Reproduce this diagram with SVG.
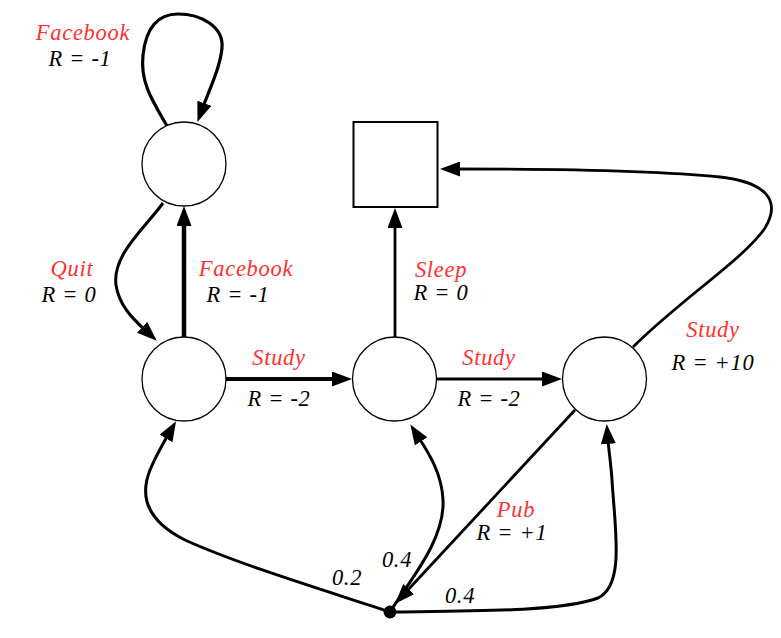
<svg xmlns="http://www.w3.org/2000/svg" width="781" height="638" viewBox="0 0 781 638">
<style>
.node{fill:#fff;stroke:#000;stroke-width:1.3}
.term{fill:#fff;stroke:#000;stroke-width:2}
.e{fill:none;stroke:#000;stroke-linecap:butt}
.lbl{font-family:"Liberation Serif","Times New Roman",serif;font-style:italic;font-size:22.5px;text-anchor:middle;letter-spacing:0.7px}
.act{fill:#ff3030}
.rew{fill:#000}
</style>
<defs>
<marker id="ah" viewBox="0 0 20 15" refX="4" refY="7.5" markerWidth="20" markerHeight="15" markerUnits="userSpaceOnUse" orient="auto">
<path d="M0,0 L20,7.5 L0,15 z" fill="#000"/>
</marker>
</defs>
<g id="connectors">
<path class="e" stroke-width="3.2" d="M167,126 C152,100 140,82 143,55 C146,28 158,14 178,14 C200,14 224,26 222,48 C220,68 210,88 203,107" marker-end="url(#ah)"/>
<path class="e" stroke-width="3" d="M163,203 C145,228 112,255 116,285 C119,305 132,318 145,330" marker-end="url(#ah)"/>
<path class="e" stroke-width="4.5" d="M184,337 L184,222" marker-end="url(#ah)"/>
<path class="e" stroke-width="4" d="M226,379 L336,379" marker-end="url(#ah)"/>
<path class="e" stroke-width="3.2" d="M436,379 L546,379" marker-end="url(#ah)"/>
<path class="e" stroke-width="2.8" d="M395,337 L395,224" marker-end="url(#ah)"/>
<path class="e" stroke-width="2.8" d="M633,347 C680,300 745,258 765,228 C782,200 765,182 720,177 C660,171 560,169 456,169" marker-end="url(#ah)"/>
<path class="e" stroke-width="2.8" d="M575,410 L406,592" marker-end="url(#ah)"/>
<path class="e" stroke-width="3" d="M390,612 C330,592 240,565 185,540 C145,520 140,495 150,470 C155,458 161,447 168,435" marker-end="url(#ah)"/>
<path class="e" stroke-width="3" d="M390,612 C410,580 445,540 443,500 C442,475 430,455 419,438" marker-end="url(#ah)"/>
<path class="e" stroke-width="3" d="M390,612 C470,611 560,612 598,598 C625,585 615,530 612,480 C611,465 609,452 608,440" marker-end="url(#ah)"/>
</g>
<g id="s1"><circle class="node" cx="184" cy="164" r="42"/></g>
<g id="s2"><circle class="node" cx="184" cy="379" r="42"/></g>
<g id="s3"><circle class="node" cx="394.5" cy="379" r="42"/></g>
<g id="s4"><circle class="node" cx="604.5" cy="379" r="42"/></g>
<g id="sleep"><rect class="term" x="353.5" y="122" width="84" height="85"/></g>
<g id="chance"><circle cx="390" cy="612" r="6.5" fill="#000"/></g>
<g id="labels">
<text class="lbl act" x="83" y="40">Facebook</text>
<text class="lbl rew" x="80" y="66">R = -1</text>
<text class="lbl act" x="72" y="276">Quit</text>
<text class="lbl rew" x="69" y="302">R = 0</text>
<text class="lbl act" x="246" y="276">Facebook</text>
<text class="lbl rew" x="238" y="302">R = -1</text>
<text class="lbl act" x="279" y="365">Study</text>
<text class="lbl rew" x="279" y="406">R = -2</text>
<text class="lbl act" x="441" y="277">Sleep</text>
<text class="lbl rew" x="441" y="300">R = 0</text>
<text class="lbl act" x="489" y="365">Study</text>
<text class="lbl rew" x="489" y="406">R = -2</text>
<text class="lbl act" x="713" y="337">Study</text>
<text class="lbl rew" x="713" y="370">R = +10</text>
<text class="lbl act" x="516" y="517">Pub</text>
<text class="lbl rew" x="512" y="540">R = +1</text>
<text class="lbl rew" x="397" y="567">0.4</text>
<text class="lbl rew" x="347" y="585">0.2</text>
<text class="lbl rew" x="460" y="603">0.4</text>
</g>
</svg>
